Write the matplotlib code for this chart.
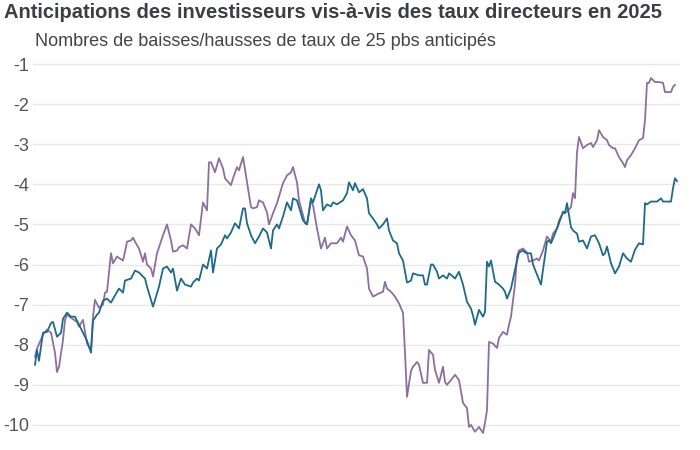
import matplotlib
matplotlib.use("Agg")
import matplotlib.pyplot as plt

plt.rcParams['font.family'] = ['Liberation Sans', 'DejaVu Sans']

# Titres
titre = "Anticipations des investisseurs vis-à-vis des taux directeurs en 2025"
sous_titre = "Nombres de baisses/hausses de taux de 25 pbs anticipés"

# Axe vertical
graduations = [-1, -2, -3, -4, -5, -6, -7, -8, -9, -10]

# Série bleue (jour d'observation, nombre de mouvements de 25 pbs anticipés)
jours_bleu = [0, 1, 2, 4, 6, 8, 9, 11, 13, 14, 16, 18, 20, 22, 24, 26, 28, 29, 31, 32,
              34, 36, 38, 40, 42, 44, 45, 48, 50, 52, 54, 55, 56, 59, 62, 64, 66, 68, 69, 71,
              73, 75, 78, 79, 81, 82, 84, 86, 88, 89, 91, 93, 95, 96, 98, 100, 102, 104, 105, 106,
              108, 110, 112, 114, 116, 118, 119, 121, 122, 124, 126, 128, 129, 131, 134, 136, 138, 139, 142, 143,
              144, 146, 148, 149, 151, 154, 156, 157, 159, 160, 162, 164, 166, 167, 169, 171, 172, 174, 176, 177,
              179, 181, 182, 184, 186, 188, 189, 192, 194, 195, 196, 198, 199, 201, 202, 204, 206, 207, 209, 210,
              212, 214, 216, 218, 219, 220, 222, 224, 225, 226, 227, 228, 230, 232, 234, 235, 236, 238, 240, 242,
              244, 245, 246, 248, 249, 251, 253, 254, 256, 257, 258, 260, 262, 264, 265, 266, 268, 269, 271, 272,
              274, 276, 278, 280, 282, 284, 285, 286, 288, 290, 292, 294, 296, 298, 300, 302, 304, 305, 306, 308,
              311, 313, 314, 318, 319, 320, 321]
taux_bleu = [-8.5, -8.13, -8.4, -7.7, -7.68, -7.46, -7.43, -7.8, -7.7, -7.35, -7.2, -7.3, -7.3, -7.5, -7.7, -7.9, -8.2, -7.4, -7.25, -7.2,
             -6.9, -6.85, -6.95, -6.77, -6.6, -6.7, -6.4, -6.35, -6.15, -6.2, -6.3, -6.35, -6.55, -7.05, -6.55, -6.1, -6.05, -6.2, -6.1, -6.65,
             -6.35, -6.5, -6.55, -6.45, -6.35, -6.4, -6.0, -6.1, -5.65, -6.2, -5.6, -5.5, -5.27, -5.35, -5.2, -4.97, -5.1, -4.6, -4.6, -4.97,
             -5.27, -5.47, -5.3, -5.1, -5.2, -5.6, -5.15, -5.0, -5.1, -4.8, -4.45, -4.65, -4.35, -4.4, -4.9, -5.0, -4.35, -4.45, -4.0, -4.15,
             -4.65, -4.5, -4.55, -4.45, -4.5, -4.4, -4.22, -3.95, -4.15, -3.97, -4.2, -4.12, -4.35, -4.72, -4.85, -5.0, -5.1, -5.0, -4.85, -5.15,
             -5.4, -5.47, -5.72, -5.9, -6.45, -6.4, -6.22, -6.27, -6.27, -6.5, -6.5, -6.0, -6.0, -6.18, -6.35, -6.27, -6.35, -6.22, -6.3, -6.35,
             -6.18, -6.5, -6.93, -7.1, -7.27, -7.5, -7.13, -7.3, -7.18, -5.93, -6.05, -5.9, -6.43, -6.5, -6.6, -6.68, -6.85, -6.6, -6.13, -5.7,
             -5.65, -5.7, -5.72, -5.72, -6.0, -6.25, -6.5, -6.13, -5.43, -5.4, -5.47, -5.23, -4.97, -4.68, -4.72, -4.47, -5.07, -5.15, -5.23, -5.43,
             -5.4, -5.6, -5.3, -5.27, -5.47, -5.77, -5.72, -5.55, -5.97, -6.22, -6.05, -5.72, -5.85, -5.93, -5.63, -5.47, -5.5, -4.47, -4.5, -4.43,
             -4.43, -4.35, -4.43, -4.43, -4.1, -3.85, -3.92]

# Série violette
jours_violet = [0, 1, 4, 5, 6, 8, 10, 11, 12, 14, 15, 16, 18, 21, 22, 24, 25, 26, 28, 29,
                30, 32, 34, 35, 36, 38, 39, 41, 44, 45, 46, 48, 49, 50, 52, 54, 55, 56, 58, 59,
                61, 64, 66, 68, 69, 71, 72, 74, 76, 78, 80, 82, 84, 86, 87, 88, 90, 92, 94, 95,
                98, 99, 101, 102, 104, 106, 108, 109, 111, 112, 114, 116, 117, 119, 121, 124, 126, 128, 129, 131,
                132, 134, 135, 136, 138, 139, 141, 143, 145, 146, 148, 151, 153, 154, 156, 158, 160, 162, 164, 166,
                167, 169, 172, 174, 175, 176, 178, 180, 182, 184, 185, 186, 188, 189, 191, 192, 194, 196, 197, 199,
                200, 202, 204, 205, 206, 208, 210, 212, 214, 216, 217, 218, 220, 222, 224, 225, 226, 227, 229, 231,
                232, 234, 236, 237, 238, 240, 241, 242, 244, 246, 247, 249, 251, 252, 254, 256, 258, 259, 261, 262,
                264, 266, 268, 269, 270, 271, 272, 274, 276, 278, 279, 281, 282, 284, 286, 287, 289, 290, 292, 294,
                295, 296, 298, 300, 302, 304, 305, 306, 307, 308, 310, 312, 314, 315, 316, 318, 319, 320]
taux_violet = [-8.3, -8.1, -7.75, -7.68, -7.63, -7.7, -8.2, -8.68, -8.55, -7.88, -7.38, -7.25, -7.33, -7.43, -7.55, -7.38, -7.68, -7.97, -8.13, -7.3,
               -6.88, -7.08, -7.0, -6.7, -6.68, -5.72, -5.97, -5.8, -5.9, -5.68, -5.43, -5.4, -5.33, -5.43, -5.6, -5.93, -5.72, -6.0, -6.1, -6.3,
               -5.72, -5.27, -5.0, -5.4, -5.68, -5.65, -5.57, -5.52, -5.6, -5.0, -5.1, -5.27, -4.45, -4.65, -3.45, -3.45, -3.7, -3.35, -3.6, -3.85,
               -4.02, -3.85, -3.57, -3.65, -3.32, -3.95, -4.57, -4.6, -4.57, -4.4, -4.45, -4.7, -5.0, -4.72, -4.47, -3.97, -3.78, -3.7, -3.57, -3.95,
               -4.4, -4.77, -4.97, -5.0, -4.4, -4.52, -5.1, -5.6, -5.33, -5.6, -5.47, -5.47, -5.33, -5.43, -5.05, -5.27, -5.4, -5.77, -5.8, -6.1,
               -6.6, -6.8, -6.72, -6.68, -6.43, -6.6, -6.68, -6.8, -6.97, -7.2, -8.2, -9.3, -8.65, -8.55, -8.43, -8.5, -8.95, -8.95, -8.13, -8.25,
               -8.63, -8.95, -8.55, -8.93, -9.0, -8.88, -8.75, -8.88, -9.45, -9.58, -10.05, -10.0, -10.17, -10.05, -10.2, -9.95, -9.63, -7.93, -7.97, -8.08,
               -7.83, -7.68, -7.75, -7.5, -7.3, -6.5, -5.8, -5.65, -5.6, -5.7, -5.93, -5.9, -5.85, -5.9, -5.65, -5.3, -5.43, -5.23, -5.1, -4.9,
               -4.72, -4.68, -4.57, -4.22, -4.35, -3.2, -2.82, -3.1, -3.02, -2.97, -3.07, -2.9, -2.65, -2.82, -2.9, -3.02, -3.1, -3.1, -3.32, -3.47,
               -3.57, -3.4, -3.27, -3.1, -2.9, -2.85, -2.4, -1.47, -1.47, -1.35, -1.45, -1.45, -1.47, -1.7, -1.7, -1.7, -1.57, -1.52]

fig = plt.figure(figsize=(7, 4.5), dpi=100)
ax = fig.add_axes([33 / 700, 5 / 450, 647 / 700, 385 / 450])

ax.plot(jours_violet, taux_violet, color='#8d6e9f', lw=1.3)
ax.plot(jours_bleu, taux_bleu, color='#1d6a8a', lw=1.3)

ax.set_xlim(-1, 322.5)
ax.set_ylim(-10.5, -0.9)
ax.set_yticks(graduations)
ax.set_yticklabels([str(g) for g in graduations])
ax.set_xticks([])
ax.grid(axis='y', color='#e8e8e8', lw=1)
ax.set_axisbelow(True)
for s in ax.spines.values():
    s.set_visible(False)
ax.tick_params(axis='y', length=0, pad=3, labelsize=13, labelcolor='#555555')

fig.text(4 / 700, 1 - 13 / 450, titre, fontsize=14.5, fontweight='bold',
         color='#3a3f45', va='center', ha='left')
fig.text(35 / 700, 1 - 41 / 450, sous_titre, fontsize=13, color='#444444',
         va='center', ha='left')

fig.savefig('out.png', dpi=100)
